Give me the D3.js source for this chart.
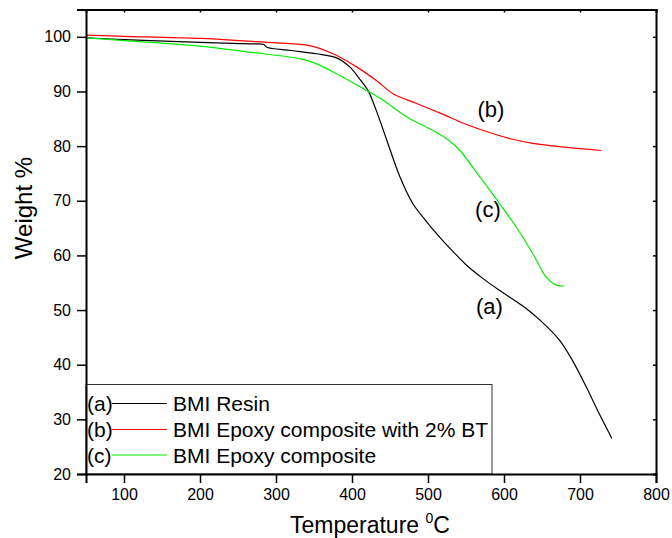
<!DOCTYPE html>
<html>
<head>
<meta charset="utf-8">
<script src="https://cdn.jsdelivr.net/npm/d3@7"></script>
<style>
  body { margin: 0; background: #fff; }
  svg text { font-family: "Liberation Sans", Arial, sans-serif; fill: #000; }
</style>
</head>
<body>
<svg id="chart" width="672" height="538"></svg>
<script>
// TGA curves
const tempA = [50, 100, 200, 265, 284, 288, 320, 353, 379, 397, 410, 421, 432, 445, 463, 480, 498, 515, 533, 550, 572, 590, 607, 627, 647, 673, 690, 708, 725, 742];
const weightA = [99.8, 99.5, 99.0, 98.7, 98.6, 98.1, 97.5, 96.9, 96.2, 94.5, 92.3, 90.2, 86.5, 81.4, 74.4, 69.5, 66.2, 63.4, 60.7, 58.3, 55.8, 54.0, 52.4, 50.5, 48.2, 44.5, 40.8, 36.0, 31.1, 26.5];

const tempB = [50, 100, 200, 265, 300, 344, 375, 406, 432, 454, 485, 520, 550, 585, 610, 638, 680, 728];
const weightB = [100.3, 100.1, 99.7, 99.2, 98.9, 98.4, 96.9, 94.5, 92.0, 89.6, 87.8, 85.8, 84.0, 82.3, 81.3, 80.5, 79.8, 79.2];

const tempC = [50, 100, 200, 265, 331, 353, 379, 419, 441, 463, 476, 506, 528, 542, 568, 594, 616, 638, 655, 668, 679];
const weightC = [99.8, 99.3, 98.3, 97.2, 96.0, 95.1, 93.3, 90.2, 88.4, 86.2, 85.0, 82.9, 81.0, 79.2, 74.4, 69.5, 65.2, 60.3, 56.1, 54.6, 54.4];

const xTicks = [100, 200, 300, 400, 500, 600, 700, 800];
const yTicks = [20, 30, 40, 50, 60, 70, 80, 90, 100];

const seriesKeys = ['(a)', '(b)', '(c)'];
const seriesNames = ['BMI Resin', 'BMI Epoxy composite with 2% BT', 'BMI Epoxy composite'];
const seriesColors = ['#000000', '#ff0000', '#00ee00'];

const margin = { top: 9.5, right: 16, bottom: 64, left: 86 };
const width = 672, height = 538;

const svg = d3.select('#chart');

const x = d3.scaleLinear().domain([50, 800]).range([margin.left, width - margin.right]);
const y = d3.scaleLinear().domain([20, 105]).range([height - margin.bottom, margin.top]);

// Curves
const series = [
  tempA.map((t, i) => [t, weightA[i]]),
  tempB.map((t, i) => [t, weightB[i]]),
  tempC.map((t, i) => [t, weightC[i]]),
];

const line = d3.line()
  .x((d) => x(d[0]))
  .y((d) => y(d[1]))
  .curve(d3.curveCatmullRom.alpha(0.5));

svg.append('g')
  .selectAll('path')
  .data(series)
  .join('path')
  .attr('fill', 'none')
  .attr('stroke', (d, i) => seriesColors[i])
  .attr('stroke-width', 1.2)
  .attr('d', line);

// Curve labels
const labelPos = [[563, 49.2], [565, 85.3], [562, 67.0]];
svg.append('g')
  .selectAll('text')
  .data(labelPos)
  .join('text')
  .attr('x', (d) => x(d[0]))
  .attr('y', (d) => y(d[1]))
  .attr('font-size', 22)
  .text((d, i) => seriesKeys[i]);

// Legend box
const lgX0 = x(50), lgX1 = 492, lgY0 = 384.5, lgY1 = y(20);
const legend = svg.append('g');
legend.append('rect')
  .attr('x', lgX0)
  .attr('y', lgY0)
  .attr('width', lgX1 - lgX0)
  .attr('height', lgY1 - lgY0)
  .attr('fill', '#fff')
  .attr('stroke', '#333')
  .attr('stroke-width', 1);

const rowY = [403.5, 429.5, 455];
seriesKeys.forEach((k, i) => {
  legend.append('text')
    .attr('x', 87)
    .attr('y', rowY[i] + 7.5)
    .attr('font-size', 21)
    .text(k);
  legend.append('line')
    .attr('x1', 112).attr('x2', 167)
    .attr('y1', rowY[i]).attr('y2', rowY[i])
    .attr('stroke', seriesColors[i])
    .attr('stroke-width', 1.2);
  legend.append('text')
    .attr('x', 173)
    .attr('y', rowY[i] + 7.5)
    .attr('font-size', 21)
    .text(seriesNames[i]);
});

// Axes
const bottomAxis = svg.append('g')
  .attr('transform', `translate(0,${y(20)})`)
  .call(d3.axisBottom(x).tickValues(xTicks).tickSize(9).tickPadding(6));
const leftAxis = svg.append('g')
  .attr('transform', `translate(${x(50)},0)`)
  .call(d3.axisLeft(y).tickValues(yTicks).tickSize(9).tickPadding(6));
const topAxis = svg.append('g')
  .attr('transform', `translate(0,${y(105)})`)
  .call(d3.axisBottom(x).tickValues(xTicks).tickSize(3).tickFormat(''));
const rightAxis = svg.append('g')
  .attr('transform', `translate(${x(800)},0)`)
  .call(d3.axisLeft(y).tickValues(yTicks).tickSize(3).tickFormat(''));

[bottomAxis, leftAxis, topAxis, rightAxis].forEach((a) => {
  a.select('.domain').attr('stroke', '#000').attr('stroke-width', 2);
  a.selectAll('.tick line').attr('stroke', '#000').attr('stroke-width', 1.5);
  a.selectAll('.tick text').attr('font-size', 16).attr('font-family', '"Liberation Sans", Arial, sans-serif').attr('fill', '#000');
});

// Axis titles
svg.append('text')
  .attr('transform', 'translate(31.5,208) rotate(-90)')
  .attr('text-anchor', 'middle')
  .attr('font-size', 24)
  .text('Weight %');

const xTitle = svg.append('text')
  .attr('x', 290)
  .attr('y', 533)
  .attr('font-size', 23);
xTitle.append('tspan').text('Temperature ');
xTitle.append('tspan').attr('font-size', 14).attr('dy', -10).text('0');
xTitle.append('tspan').attr('dy', 10).text('C');
</script>
</body>
</html>
